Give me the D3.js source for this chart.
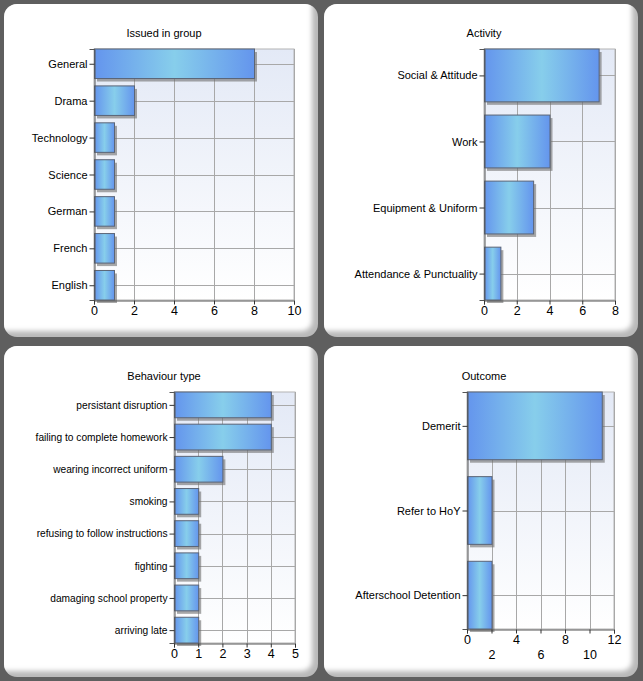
<!DOCTYPE html>
<html>
<head>
<meta charset="utf-8">
<script src="https://cdn.jsdelivr.net/npm/d3@7"></script>
<style>
  body { margin: 0; background: #5f5f5f; }
  svg { display: block; font-family: "Liberation Sans", Arial, sans-serif; }
</style>
</head>
<body>
<div id="charts"></div>
<script>
const W = 643;
const H = 681;

// chart data
const groupTitle = 'Issued in group';
const groupCats = ['General', 'Drama', 'Technology', 'Science', 'German', 'French', 'English'];
const groupVals = [8, 2, 1, 1, 1, 1, 1];
const groupTicks = [0, 2, 4, 6, 8, 10];

const activityTitle = 'Activity';
const activityCats = ['Social & Attitude', 'Work', 'Equipment & Uniform', 'Attendance & Punctuality'];
const activityVals = [7, 4, 3, 1];
const activityTicks = [0, 2, 4, 6, 8];

const behaviourTitle = 'Behaviour type';
const behaviourCats = ['persistant disruption', 'failing to complete homework', 'wearing incorrect uniform',
  'smoking', 'refusing to follow instructions', 'fighting', 'damaging school property', 'arriving late'];
const behaviourVals = [4, 4, 2, 1, 1, 1, 1, 1];
const behaviourTicks = [0, 1, 2, 3, 4, 5];

const outcomeTitle = 'Outcome';
const outcomeCats = ['Demerit', 'Refer to HoY', 'Afterschool Detention'];
const outcomeVals = [11, 2, 2];
const outcomeTicks = [0, 2, 4, 6, 8, 10, 12];

const svg = d3.select('#charts').
append('svg').
attr('width', W).
attr('height', H);

const defs = svg.append('defs');

// bar fill: cornflower at the edges, sky blue in the middle
const barGrad = defs.append('linearGradient').attr('id', 'barGrad').
attr('x1', 0).attr('x2', 1).attr('y1', 0).attr('y2', 0);
barGrad.append('stop').attr('offset', '0%').attr('stop-color', '#6495ed');
barGrad.append('stop').attr('offset', '50%').attr('stop-color', '#87ceeb');
barGrad.append('stop').attr('offset', '100%').attr('stop-color', '#6495ed');

const plotGrad = defs.append('linearGradient').attr('id', 'plotGrad').
attr('x1', 0).attr('x2', 0).attr('y1', 0).attr('y2', 1);
plotGrad.append('stop').attr('offset', '0%').attr('stop-color', '#e3e9f6');
plotGrad.append('stop').attr('offset', '100%').attr('stop-color', '#ffffff');

defs.append('filter').attr('id', 'soft').
attr('x', '-10%').attr('y', '-10%').attr('width', '120%').attr('height', '120%').
append('feGaussianBlur').attr('stdDeviation', 2.5);

const panels = [
  {x: 4, y: 4, w: 314, h: 333, title: groupTitle, cats: groupCats, vals: groupVals, ticks: groupTicks,
    plot: [94, 49, 294, 300], titleY: 37, catFont: 11},
  {x: 324, y: 4, w: 314, h: 333, title: activityTitle, cats: activityCats, vals: activityVals, ticks: activityTicks,
    plot: [484, 49, 615, 300], titleY: 37, catFont: 11},
  {x: 4, y: 346, w: 314, h: 331, title: behaviourTitle, cats: behaviourCats, vals: behaviourVals, ticks: behaviourTicks,
    plot: [174, 392, 295, 643], titleY: 380, catFont: 10.2},
  {x: 324, y: 346, w: 314, h: 331, title: outcomeTitle, cats: outcomeCats, vals: outcomeVals, ticks: outcomeTicks,
    plot: [467, 392, 614, 629], titleY: 380, catFont: 11, stagger: true}
];

panels.forEach(function (p, k) {
  // rounded panel with a soft shade along right and bottom
  const clipId = 'clip' + k;
  defs.append('clipPath').attr('id', clipId).
  append('rect').attr('x', p.x).attr('y', p.y).attr('width', p.w).attr('height', p.h).
  attr('rx', 13).attr('ry', 13);

  const g = svg.append('g');
  const bg = g.append('g').attr('clip-path', 'url(#' + clipId + ')');
  bg.append('rect').attr('x', p.x).attr('y', p.y).attr('width', p.w).attr('height', p.h).
  attr('fill', '#b9b9b9');
  bg.append('rect').attr('x', p.x - 20).attr('y', p.y - 20).attr('width', p.w + 14).attr('height', p.h + 14).
  attr('rx', 10).attr('fill', '#ffffff').attr('filter', 'url(#soft)');

  g.append('text').
  attr('x', p.x + p.w / 2 + 3).
  attr('y', p.titleY).
  attr('text-anchor', 'middle').
  attr('font-size', 11).
  attr('fill', '#000').
  text(p.title);

  const [x0, y0, x1, y1] = p.plot;
  const xScale = d3.scaleLinear().
  domain([p.ticks[0], p.ticks[p.ticks.length - 1]]).
  range([x0, x1]);
  const yScale = d3.scalePoint().
  domain(p.cats).
  range([y0, y1]).
  padding(0.4);
  const barH = yScale.step() * 0.8;

  g.append('rect').attr('x', x0).attr('y', y0).attr('width', x1 - x0).attr('height', y1 - y0).
  attr('fill', 'url(#plotGrad)').attr('stroke', '#b4b4b4').attr('stroke-width', 1);

  // grid
  g.append('g').selectAll('line').data(p.ticks.slice(1)).enter().append('line').
  attr('x1', d => Math.round(xScale(d)) + 0.5).attr('x2', d => Math.round(xScale(d)) + 0.5).
  attr('y1', y0).attr('y2', y1).
  attr('stroke', '#a8a8a8').attr('stroke-width', 1);
  g.append('g').selectAll('line').data(p.cats).enter().append('line').
  attr('x1', x0).attr('x2', x1).
  attr('y1', d => Math.round(yScale(d)) + 0.5).attr('y2', d => Math.round(yScale(d)) + 0.5).
  attr('stroke', '#a8a8a8').attr('stroke-width', 1);

  // bars with drop shadow
  const bars = g.append('g').selectAll('g').data(p.vals).enter().append('g');
  bars.append('rect').
  attr('x', x0 + 3).
  attr('y', (d, i) => yScale(p.cats[i]) - barH / 2 + 3).
  attr('width', d => xScale(d) - x0).
  attr('height', barH).
  attr('fill', '#6e6e6e').attr('opacity', 0.6);
  bars.append('rect').
  attr('x', x0 + 0.5).
  attr('y', (d, i) => yScale(p.cats[i]) - barH / 2).
  attr('width', d => xScale(d) - x0).
  attr('height', barH).
  attr('fill', 'url(#barGrad)').
  attr('stroke', '#5a6476').attr('stroke-width', 1);

  // axes
  const yAxis = d3.axisLeft(yScale).tickSize(5).tickPadding(2);
  const ya = g.append('g').attr('transform', 'translate(' + (x0 + 0.5) + ',0)').call(yAxis);
  ya.selectAll('text').attr('font-size', p.catFont).attr('fill', '#000').
  attr('font-family', '"Liberation Sans", Arial, sans-serif');

  const xAxis = d3.axisBottom(xScale).tickValues(p.ticks).tickFormat(d3.format('d')).
  tickSize(4).tickPadding(2);
  const xa = g.append('g').attr('transform', 'translate(0,' + (y1 + 0.5) + ')').call(xAxis);
  xa.selectAll('text').attr('font-size', 12.5).attr('fill', '#000').
  attr('font-family', '"Liberation Sans", Arial, sans-serif');
  if (p.stagger) {
    xa.selectAll('.tick text').attr('dy', (d, i) => i % 2 ? '1.9em' : '0.71em');
  }
  [ya, xa].forEach(a => {
    a.select('.domain').attr('stroke', '#555');
    a.selectAll('.tick line').attr('stroke', '#333');
  });
});
</script>
</body>
</html>
